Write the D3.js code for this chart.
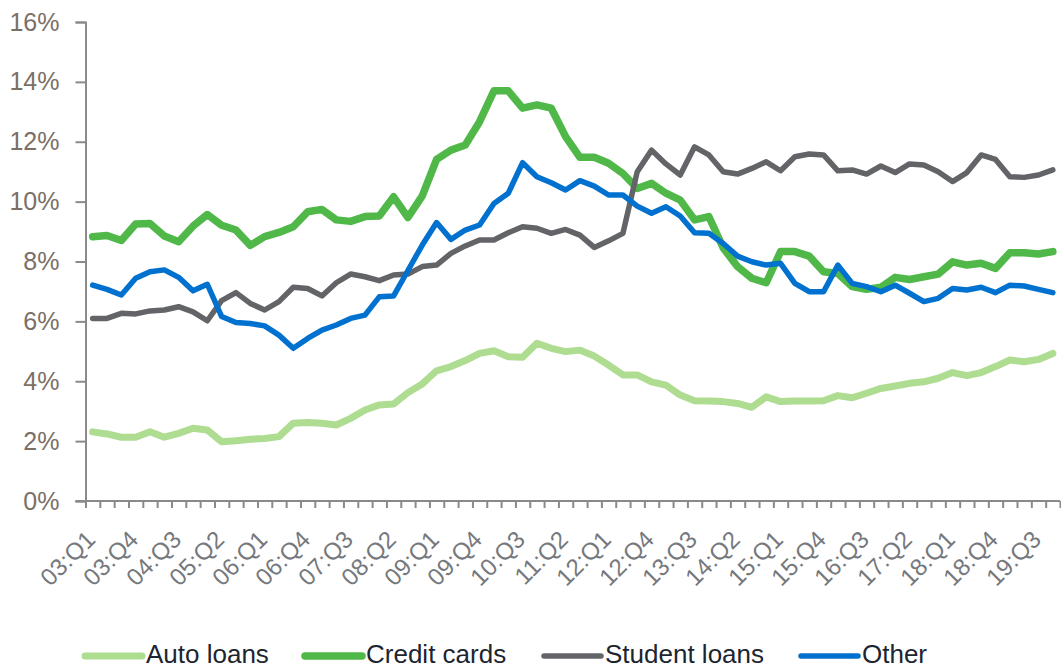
<!DOCTYPE html>
<html>
<head>
<meta charset="utf-8">
<script src="https://cdn.jsdelivr.net/npm/d3@7"></script>
<style>
  body { margin: 0; background: #fff; }
  svg { display: block; font-family: "Liberation Sans", Arial, sans-serif; }
</style>
</head>
<body>
<div id="chart"></div>
<script>
const quarters = [
  "03:Q1","03:Q2","03:Q3","03:Q4","04:Q1","04:Q2","04:Q3","04:Q4",
  "05:Q1","05:Q2","05:Q3","05:Q4","06:Q1","06:Q2","06:Q3","06:Q4",
  "07:Q1","07:Q2","07:Q3","07:Q4","08:Q1","08:Q2","08:Q3","08:Q4",
  "09:Q1","09:Q2","09:Q3","09:Q4","10:Q1","10:Q2","10:Q3","10:Q4",
  "11:Q1","11:Q2","11:Q3","11:Q4","12:Q1","12:Q2","12:Q3","12:Q4",
  "13:Q1","13:Q2","13:Q3","13:Q4","14:Q1","14:Q2","14:Q3","14:Q4",
  "15:Q1","15:Q2","15:Q3","15:Q4","16:Q1","16:Q2","16:Q3","16:Q4",
  "17:Q1","17:Q2","17:Q3","17:Q4","18:Q1","18:Q2","18:Q3","18:Q4",
  "19:Q1","19:Q2","19:Q3","19:Q4"
];

const tickLabels = ["03:Q1","03:Q4","04:Q3","05:Q2","06:Q1","06:Q4","07:Q3","08:Q2",
  "09:Q1","09:Q4","10:Q3","11:Q2","12:Q1","12:Q4","13:Q3","14:Q2","15:Q1","15:Q4",
  "16:Q3","17:Q2","18:Q1","18:Q4","19:Q3"];

const yTicks = [0, 2, 4, 6, 8, 10, 12, 14, 16];

const autoLoans = [2.31, 2.24, 2.13, 2.13, 2.31, 2.13, 2.26, 2.43, 2.37, 1.98, 2.01, 2.06, 2.09, 2.15, 2.60, 2.62, 2.60, 2.54, 2.76, 3.04, 3.21, 3.24, 3.62, 3.91, 4.35, 4.49, 4.69, 4.93, 5.02, 4.82, 4.80, 5.27, 5.10, 4.99, 5.04, 4.84, 4.54, 4.21, 4.21, 3.98, 3.87, 3.54, 3.35, 3.34, 3.32, 3.26, 3.13, 3.48, 3.32, 3.34, 3.34, 3.35, 3.52, 3.45, 3.60, 3.76, 3.84, 3.93, 3.98, 4.10, 4.29, 4.19, 4.29, 4.49, 4.71, 4.65, 4.73, 4.93];

const creditCards = [8.83, 8.87, 8.70, 9.25, 9.27, 8.85, 8.66, 9.18, 9.57, 9.21, 9.05, 8.54, 8.83, 8.97, 9.16, 9.66, 9.74, 9.39, 9.34, 9.50, 9.52, 10.16, 9.47, 10.19, 11.41, 11.72, 11.89, 12.67, 13.70, 13.70, 13.12, 13.23, 13.12, 12.17, 11.48, 11.48, 11.28, 10.94, 10.44, 10.61, 10.28, 10.05, 9.39, 9.50, 8.45, 7.83, 7.44, 7.29, 8.33, 8.33, 8.18, 7.66, 7.60, 7.16, 7.07, 7.14, 7.47, 7.40, 7.49, 7.58, 7.99, 7.88, 7.94, 7.77, 8.29, 8.29, 8.25, 8.33];

const studentLoans = [6.10, 6.10, 6.27, 6.25, 6.35, 6.38, 6.49, 6.32, 6.02, 6.69, 6.96, 6.60, 6.38, 6.66, 7.14, 7.10, 6.85, 7.29, 7.58, 7.49, 7.36, 7.55, 7.58, 7.83, 7.88, 8.27, 8.52, 8.72, 8.72, 8.96, 9.16, 9.11, 8.94, 9.07, 8.88, 8.47, 8.69, 8.94, 11.00, 11.72, 11.26, 10.89, 11.83, 11.56, 11.00, 10.92, 11.11, 11.33, 11.03, 11.50, 11.59, 11.56, 11.03, 11.06, 10.92, 11.19, 10.97, 11.26, 11.22, 11.00, 10.67, 10.97, 11.56, 11.41, 10.83, 10.81, 10.89, 11.06];

const other = [7.21, 7.07, 6.88, 7.44, 7.66, 7.72, 7.47, 7.02, 7.24, 6.16, 5.96, 5.93, 5.85, 5.54, 5.10, 5.43, 5.71, 5.88, 6.10, 6.21, 6.82, 6.85, 7.70, 8.55, 9.30, 8.74, 9.05, 9.22, 9.94, 10.28, 11.30, 10.83, 10.63, 10.39, 10.70, 10.52, 10.22, 10.22, 9.85, 9.61, 9.83, 9.52, 8.96, 8.94, 8.60, 8.18, 7.99, 7.88, 7.94, 7.27, 6.99, 6.99, 7.88, 7.27, 7.16, 6.99, 7.21, 6.94, 6.66, 6.77, 7.10, 7.05, 7.14, 6.96, 7.21, 7.18, 7.07, 6.96];

const seriesNames = ["Auto loans", "Credit cards", "Student loans", "Other"];
const seriesValues = [autoLoans, creditCards, studentLoans, other];
const seriesColors = ["#aedc91", "#50b848", "#636468", "#0071ce"];
const seriesWidths = [7, 7.5, 5.5, 5.5];

const width = 1061, height = 671;
const plotLeft = 85.5, plotRight = 1060, plotTop = 22, plotBottom = 501;

const svg = d3.select("#chart").append("svg")
  .attr("width", width)
  .attr("height", height);

const x = d3.scaleBand().domain(quarters).range([plotLeft, plotRight]).padding(0);
const y = d3.scaleLinear().domain([0, 16]).range([plotBottom, plotTop]);
const xEdge = d3.scaleLinear().domain([0, quarters.length]).range([plotLeft, plotRight]);

// y axis
const yAxis = svg.append("g")
  .attr("transform", `translate(${plotLeft},0)`)
  .call(d3.axisLeft(y).tickValues(yTicks).tickFormat(d => d + "%").tickSize(10).tickPadding(16));
yAxis.select(".domain").attr("stroke", "#8a8a8a").attr("stroke-width", 2);
yAxis.selectAll(".tick line").attr("stroke", "#8a8a8a").attr("stroke-width", 2);
yAxis.selectAll(".tick text").attr("fill", "#7b6f66").attr("font-size", 25)
  .attr("font-family", "Liberation Sans, Arial, sans-serif");

// x axis: category boundary ticks
const xAxis = svg.append("g")
  .attr("transform", `translate(0,${plotBottom})`)
  .call(d3.axisBottom(xEdge).tickValues(d3.range(quarters.length + 1)).tickFormat("").tickSize(7).tickSizeOuter(0));
xAxis.select(".domain").attr("stroke", "#8a8a8a").attr("stroke-width", 2)
  .attr("d", `M${plotLeft - 10},0H${plotRight}`);
xAxis.selectAll(".tick line").attr("stroke", "#8a8a8a").attr("stroke-width", 2);

// x labels
svg.append("g").selectAll("text")
  .data(tickLabels)
  .join("text")
  .attr("transform", d => `translate(${x(d) + x.bandwidth() / 2 - 2},${plotBottom + 34}) rotate(-45)`)
  .attr("text-anchor", "end")
  .attr("dy", "0.35em")
  .attr("fill", "#75787c")
  .attr("font-size", 24)
  .text(d => d);

// lines
const line = d3.line()
  .x((d, i) => x(quarters[i]) + x.bandwidth() / 2)
  .y(d => y(d));

svg.append("g").selectAll("path")
  .data(seriesValues)
  .join("path")
  .attr("d", line)
  .attr("fill", "none")
  .attr("stroke", (d, i) => seriesColors[i])
  .attr("stroke-width", (d, i) => seriesWidths[i])
  .attr("stroke-linejoin", "round")
  .attr("stroke-linecap", "round");

// legend
const legendX = [85, 305, 544, 801];
const legend = svg.append("g").selectAll("g")
  .data(seriesNames)
  .join("g")
  .attr("transform", (d, i) => `translate(${legendX[i]},656)`);
legend.append("line")
  .attr("x1", 0).attr("x2", 57)
  .attr("stroke", (d, i) => seriesColors[i])
  .attr("stroke-width", (d, i) => seriesWidths[i])
  .attr("stroke-linecap", "round");
legend.append("text")
  .attr("x", 61)
  .attr("y", 7)
  .attr("fill", "#1c2530")
  .attr("font-size", 26)
  .text(d => d);
</script>
</body>
</html>
